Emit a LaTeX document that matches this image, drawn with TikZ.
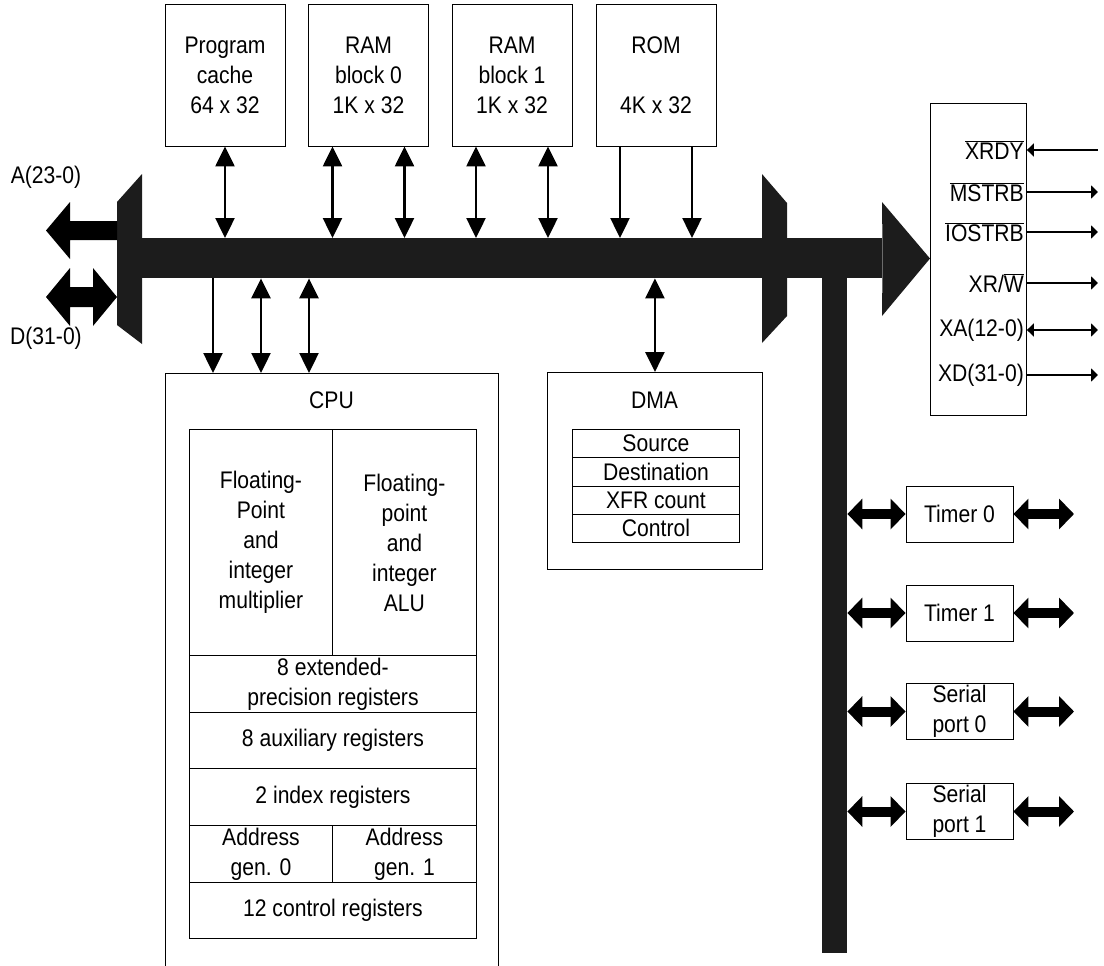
\documentclass[tikz,border=0pt]{standalone}
\usepackage{fontspec}
\setmainfont{Liberation Sans}[FakeStretch=0.88]
\usetikzlibrary{arrows.meta}
\definecolor{busblack}{RGB}{28,28,28}
\newcommand{\lblfont}{\fontsize{24}{30}\selectfont}
\newcommand{\ovl}[1]{$\overline{\hbox{#1}}$}

\begin{document}
\begin{tikzpicture}[x=1pt,y=-1pt,
  box/.style={draw, line width=0.9pt, inner sep=0pt, align=center, font=\lblfont},
  membox/.style={box, minimum width=120pt, minimum height=142pt},
  cell/.style={box, anchor=north west},
  perbox/.style={box, minimum width=107pt, minimum height=56pt},
  lbl/.style={inner sep=0pt, align=center, font=\lblfont},
  busfill/.style={fill=busblack},
  thinarrow/.style={line width=2.5pt},
  tri/.tip={Triangle[length=20pt,width=19pt]},
  smalltri/.tip={Triangle[length=7pt,width=13pt]},
  fattri/.tip={Triangle[length=15pt,width=30pt]},
  fatarrow/.style={line width=10pt, fattri-fattri},
  sigline/.style={line width=2pt}
]
\useasboundingbox (0,0) rectangle (1104,966);

% ---------- main internal bus ----------
\node[busfill, inner sep=0pt, minimum width=740pt, minimum height=40pt,
      anchor=north west] (bus) at (142,238) {};
\fill[busblack] (bus.north east) -- (882,202) -- (930,258.5) -- (882,316)
      -- (bus.south east) -- cycle;
% vertical peripheral bus
\node[busfill, inner sep=0pt, minimum width=25pt, minimum height=683pt,
      anchor=north west] (vbus) at (822,270) {};
% multiplexers
\fill[busblack] (117,202) -- (142,174) -- (142,344) -- (117,325) -- cycle;
\fill[busblack] (762,174) -- (787,203) -- (787,316) -- (762,343) -- cycle;
% external address / data arrows
\fill (117,221) -- (70,221) -- (70,202) -- (46,230.5) -- (70,259) -- (70,240)
      -- (117,240) -- cycle;
\fill (46,297) -- (70,268) -- (70,287) -- (93,287) -- (93,268) -- (117,297)
      -- (93,326) -- (93,307) -- (70,307) -- (70,326) -- cycle;
\node[lbl] (alab) at (46,177) {A(23-0)};
\node[lbl] (dlab) at (46,338) {D(31-0)};

% ---------- memories ----------
\node[membox] (pc)   at (225,75)   {Program\\cache\\64 x 32};
\node[membox] (ram0) at (368.5,75) {RAM\\block 0\\1K x 32};
\node[membox] (ram1) at (512,75)   {RAM\\block 1\\1K x 32};
\node[membox] (rom)  at (656,75)   {ROM\\\mbox{}\\4K x 32};

\coordinate (pca) at (pc.south);
\coordinate (r0a) at ([xshift=-36pt]ram0.south);
\coordinate (r0b) at ([xshift=36pt]ram0.south);
\coordinate (r1a) at ([xshift=-36pt]ram1.south);
\coordinate (r1b) at ([xshift=36pt]ram1.south);
\coordinate (roa) at ([xshift=-36pt]rom.south);
\coordinate (rob) at ([xshift=36pt]rom.south);

\foreach \p in {pca,r0a,r0b,r1a,r1b}
  \draw[thinarrow, tri-tri] (\p) -- (\p |- bus.north);
\foreach \p in {roa,rob}
  \draw[thinarrow, -tri] (\p) -- (\p |- bus.north);

% ---------- CPU ----------
\node[inner sep=0pt, minimum width=333pt, minimum height=593pt,
      anchor=north west] (cpu) at (165,373) {};
\draw[line width=0.9pt] (cpu.south west) |- (cpu.north east) -- (cpu.south east);
\node[lbl] (cputitle) at (331.5,400) {CPU};

\coordinate (c1) at ([xshift=48pt]cpu.north west);
\coordinate (c2) at ([xshift=96pt]cpu.north west);
\coordinate (c3) at ([xshift=144pt]cpu.north west);
\draw[thinarrow, -tri] (c1 |- bus.south) -- (c1);
\draw[thinarrow, tri-tri] (c2 |- bus.south) -- (c2);
\draw[thinarrow, tri-tri] (c3 |- bus.south) -- (c3);

\node[cell, minimum width=143pt, minimum height=226pt] (fpm) at (189,429)
  {Floating-\\Point\\and\\integer\\multiplier};
\node[cell, minimum width=144pt, minimum height=226pt] (fpa) at (332,429)
  {Floating-\\point\\and\\integer\\ALU};
\node[cell, minimum width=287pt, minimum height=57pt] (ext) at (189,655)
  {8 extended-\\precision registers};
\node[cell, minimum width=287pt, minimum height=56pt] (aux) at (189,712)
  {8 auxiliary registers};
\node[cell, minimum width=287pt, minimum height=57pt] (idx) at (189,768)
  {2 index registers};
\node[cell, minimum width=143pt, minimum height=57pt] (ag0) at (189,825)
  {Address\\gen. 0};
\node[cell, minimum width=144pt, minimum height=57pt] (ag1) at (332,825)
  {Address\\gen. 1};
\node[cell, minimum width=287pt, minimum height=56pt] (ctl) at (189,882)
  {12 control registers};

% ---------- DMA ----------
\node[box, minimum width=215pt, minimum height=197pt, anchor=north west]
  (dma) at (547,372) {};
\node[lbl] (dmatitle) at (654.5,400) {DMA};
\node[cell, minimum width=167pt, minimum height=28.25pt] (src) at (572,429) {Source};
\node[cell, minimum width=167pt, minimum height=28.25pt] (dst) at (572,457.25) {Destination};
\node[cell, minimum width=167pt, minimum height=28.25pt] (cnt) at (572,485.5) {XFR count};
\node[cell, minimum width=167pt, minimum height=28.25pt] (ctr) at (572,513.75) {Control};
\draw[thinarrow, tri-tri] (dma.north |- bus.south) -- (dma.north);

% ---------- peripherals ----------
\node[perbox] (t0) at (959.5,514)   {Timer 0};
\node[perbox] (t1) at (959.5,613)   {Timer 1};
\node[perbox] (s0) at (959.5,711.5) {Serial\\port 0};
\node[perbox] (s1) at (959.5,811.5) {Serial\\port 1};
\foreach \b in {t0,t1,s0,s1}{
  \coordinate (\b out) at (\b.east -| 1074,0);
  \draw[fatarrow] (vbus.east |- \b.west) -- (\b.west);
  \draw[fatarrow] (\b.east) -- (\b out);
}

% ---------- external bus interface ----------
\node[box, minimum width=96pt, minimum height=312pt, anchor=north west]
  (xif) at (930,103) {};
\node[lbl, anchor=east] (xrdy)  at (1024,150) {\ovl{XRDY}};
\node[lbl, anchor=east] (mstrb) at (1024,192) {\ovl{MSTRB}};
\node[lbl, anchor=east] (iostrb) at (1024,232) {\ovl{IOSTRB}};
\node[lbl, anchor=east] (xrw)   at (1024,283) {XR/\ovl{W}};
\node[lbl, anchor=east] (xa)    at (1024,330) {XA(12-0)};
\node[lbl, anchor=east] (xd)    at (1024,375) {XD(31-0)};
\foreach \s in {xrdy,mstrb,iostrb,xrw,xa,xd}
  \coordinate (\s pin) at (\s.east -| 1098,0);
\draw[sigline, smalltri-] (xif.east |- xrdy.east) -- (xrdypin);
\draw[sigline, -smalltri] (xif.east |- mstrb.east) -- (mstrbpin);
\draw[sigline, -smalltri] (xif.east |- iostrb.east) -- (iostrbpin);
\draw[sigline, -smalltri] (xif.east |- xrw.east) -- (xrwpin);
\draw[sigline, smalltri-smalltri] (xif.east |- xa.east) -- (xapin);
\draw[sigline, -smalltri] (xif.east |- xd.east) -- (xdpin);
\end{tikzpicture}
\end{document}
